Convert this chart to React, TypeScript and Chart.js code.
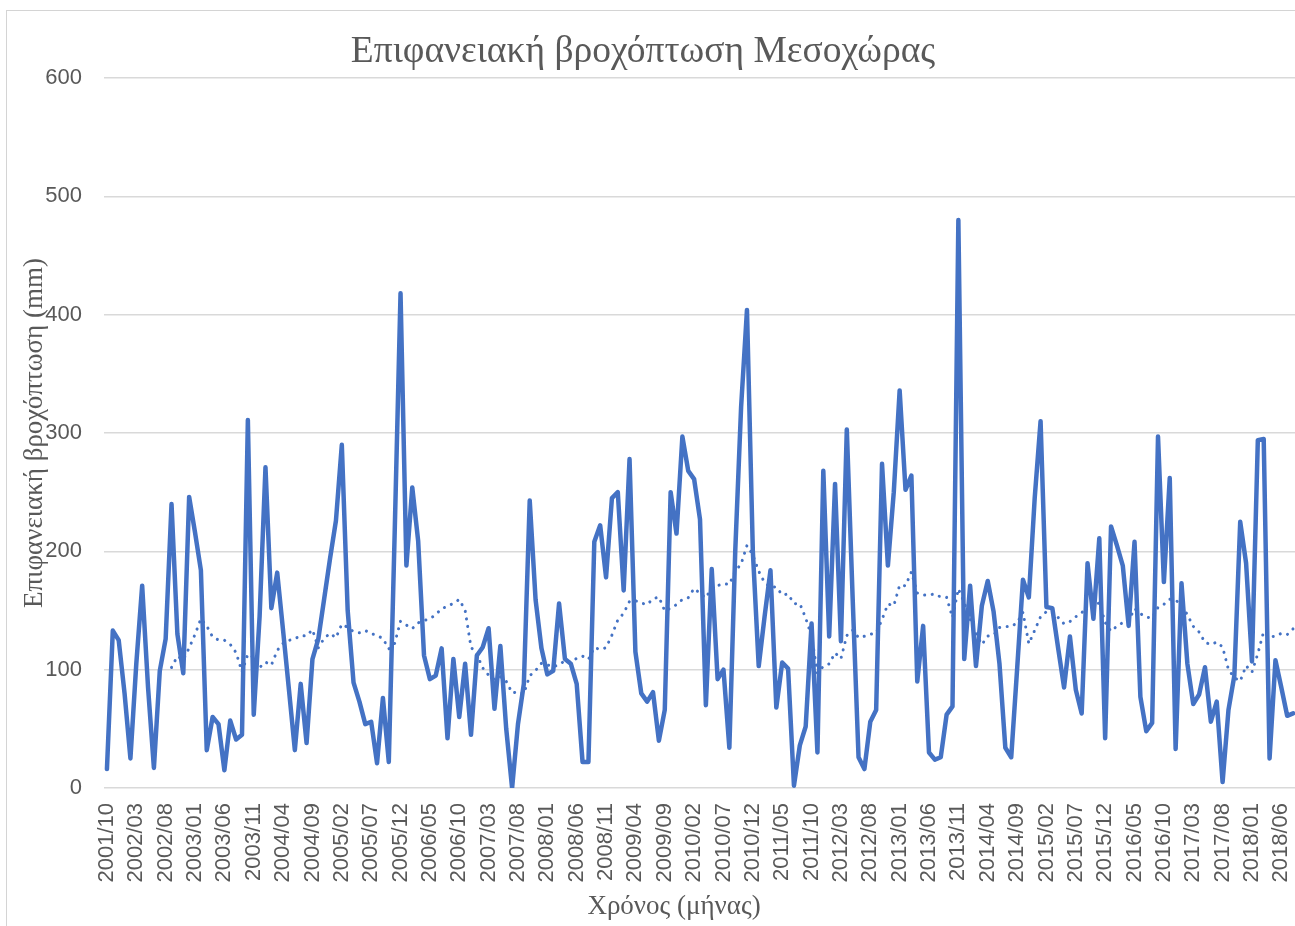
import React, { useEffect, useRef } from "react";
import { Chart, registerables } from "chart.js";

Chart.register(...registerables);

// Monthly surface rainfall (mm), starting 2001/10
const START_YEAR = 2001;
const START_MONTH = 10;
const rainfall: number[] = [
  16, 133, 125, 80, 25, 105, 171, 85, 17, 99, 126, 240,
  130, 97, 246, 216, 184, 32, 60, 54, 15, 57, 41, 45,
  311, 62, 145, 271, 152, 182, 133, 83, 32, 88, 38, 109,
  126, 160, 194, 226, 290, 150, 89, 73, 54, 56, 21, 76,
  22, 215, 418, 188, 254, 209, 112, 92, 95, 118, 42, 109,
  60, 105, 45, 112, 119, 135, 67, 120, 50, 0, 54, 88,
  243, 159, 118, 96, 99, 156, 109, 105, 88, 22, 22, 208,
  222, 178, 245, 250, 167, 278, 115, 80, 73, 81, 40, 66,
  250, 215, 297, 268, 261, 227, 70, 185, 92, 100, 34, 200,
  322, 404, 200, 103, 145, 184, 68, 106, 101, 2, 36, 52,
  139, 30, 268, 128, 257, 124, 303, 160, 26, 16, 56, 66,
  274, 188, 250, 336, 252, 264, 90, 137, 30, 24, 26, 62,
  69, 480, 109, 171, 103, 154, 175, 149, 105, 34, 26, 100,
  176, 161, 245, 310, 153, 152, 118, 85, 128, 83, 63, 190,
  143, 211, 42, 221, 205, 188, 137, 208, 77, 48, 55, 297,
  174, 262, 33, 173, 105, 71, 79, 102, 56, 73, 5, 66,
  95, 225, 190, 107, 294, 295, 25, 108, 85, 61, 63,
];

// Category labels "YYYY/MM"
const months: string[] = rainfall.map((_, i) => {
  const m = START_MONTH - 1 + i;
  const y = START_YEAR + Math.floor(m / 12);
  const mm = (m % 12) + 1;
  return `${y}/${String(mm).padStart(2, "0")}`;
});

const LABEL_STEP = 5;
const Y_MIN = 0;
const Y_MAX = 600;
const Y_STEP = 100;

// 12-month moving-average trendline (as in the original spreadsheet chart)
const MA_PERIOD = 12;
const movingAverage: (number | null)[] = rainfall.map((_, i) => {
  if (i < MA_PERIOD - 1) return null;
  let s = 0;
  for (let k = i - MA_PERIOD + 1; k <= i; k++) s += rainfall[k];
  return s / MA_PERIOD;
});

const TITLE = "Επιφανειακή βροχόπτωση Μεσοχώρας";
const X_TITLE = "Χρόνος (μήνας)";
const Y_TITLE = "Επιφανειακή βροχόπτωση (mm)";

const BLUE = "#4472C4";
const TEXT = "#595959";
const GRID = "#d9d9d9";

const titlesPlugin = {
  id: "customTitles",
  afterDraw(chart: any) {
    const ctx = chart.ctx;
    ctx.save();
    ctx.fillStyle = TEXT;
    ctx.textAlign = "center";
    ctx.textBaseline = "alphabetic";
    ctx.font = '37.5px "Liberation Serif"';
    ctx.fillText(TITLE, 643, 62);
    ctx.font = '27px "Liberation Serif"';
    ctx.fillText(X_TITLE, 674, 914);
    ctx.restore();
  },
};

export default function App() {
  const ref = useRef<HTMLCanvasElement | null>(null);

  useEffect(() => {
    if (!ref.current) return;
    const chart = new Chart(ref.current, {
      type: "line",
      data: {
        labels: months,
        datasets: [
          {
            label: "12 per. Mov. Avg.",
            data: movingAverage,
            borderColor: BLUE,
            borderWidth: 3,
            borderDash: [0.1, 7.5],
            borderCapStyle: "round",
            pointRadius: 0,
            fill: false,
            tension: 0,
            spanGaps: false,
          },
          {
            label: "Βροχόπτωση",
            data: rainfall,
            borderColor: BLUE,
            borderWidth: 4.5,
            borderJoinStyle: "round",
            borderCapStyle: "round",
            pointRadius: 0,
            fill: false,
            tension: 0,
          },
        ],
      },
      options: {
        animation: false,
        responsive: false,
        events: [],
        layout: { padding: { top: 78, right: 4, left: 0, bottom: 0 } },
        plugins: {
          legend: { display: false },
          tooltip: { enabled: false },
          title: { display: false },
        },
        scales: {
          x: {
            type: "category",
            offset: true,
            grid: { display: false, drawTicks: false },
            border: { display: false },
            ticks: {
              autoSkip: false,
              minRotation: 90,
              maxRotation: 90,
              padding: 15,
              color: TEXT,
              font: { family: "Liberation Sans", size: 22 },
              callback: (_v: any, i: number) =>
                i % LABEL_STEP === 0 ? months[i] : "",
            },
            afterFit: (s: any) => {
              s.height = 138;
              s.paddingLeft = 0;
              s.paddingRight = 0;
            },
          },
          y: {
            min: Y_MIN,
            max: Y_MAX,
            ticks: {
              stepSize: Y_STEP,
              padding: 22,
              color: TEXT,
              font: { family: "Liberation Sans", size: 22 },
            },
            grid: { color: GRID, lineWidth: 1.5, drawTicks: false },
            border: { display: false },
            title: {
              display: true,
              text: Y_TITLE,
              color: TEXT,
              font: { family: "Liberation Serif", size: 27 },
              padding: { top: 19, bottom: 0 },
            },
            afterFit: (s: any) => {
              s.width = 104;
            },
          },
        },
      },
      plugins: [titlesPlugin],
    } as any);
    return () => chart.destroy();
  }, []);

  return (
    <div
      style={{
        position: "fixed",
        left: 0,
        top: 0,
        width: 1295,
        height: 926,
        overflow: "hidden",
        background: "#ffffff",
      }}
    >
      <div
        style={{
          position: "absolute",
          left: 6,
          top: 10,
          width: 1400,
          height: 1000,
          border: "1px solid #d4d4d4",
          boxSizing: "border-box",
        }}
      />
      <canvas
        ref={ref}
        width={1300}
        height={926}
        style={{ position: "absolute", left: 0, top: 0, display: "block" }}
      />
    </div>
  );
}
